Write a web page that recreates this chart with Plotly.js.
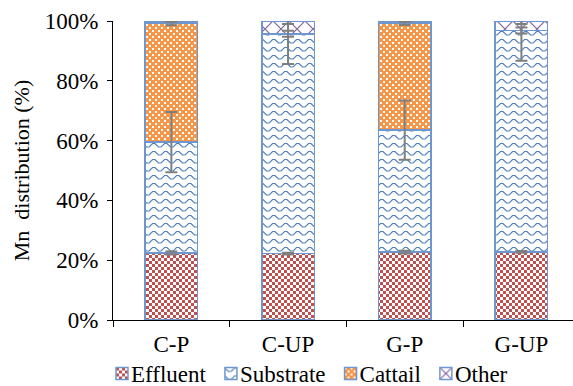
<!DOCTYPE html>
<html>
<head>
<meta charset="utf-8">
<script src="https://cdn.plot.ly/plotly-3.0.1.min.js"></script>
<style>
  html, body { margin: 0; padding: 0; background: #fff; }
  #chart { width: 573px; height: 386px; }
</style>
</head>
<body>
<div id="chart"></div>
<script>
// Mn distribution per treatment (% of total)
const categories = ['C-P', 'C-UP', 'G-P', 'G-UP'];
const effluent  = [22.4, 22.2, 22.7, 22.8];
const substrate = [37.1, 73.5, 40.8, 74.0];
const cattail   = [39.8, 0.0, 35.8, 0.0];
const other     = [0.7, 4.3, 0.7, 3.2];

// standard deviations
const effluentErr  = [0.5, 0.3, 0.5, 0.3];
const substrateErr = [10.1, 10.1, 9.9, 10.1];
const cattailErr   = [0.7, 1.0, 0.6, 1.0];
const otherErr     = [0.3, 1.0, 0.3, 1.0];

const seriesNames = ['Effluent', 'Substrate', 'Cattail', 'Other'];
const seriesColors = ['#C0504D', '#4F81BD', '#F79646', '#8064A2'];
const seriesValues = [effluent, substrate, cattail, other];
const seriesErrors = [effluentErr, substrateErr, cattailErr, otherErr];
const patternIds = ['pat-effluent', 'pat-substrate', 'pat-cattail', 'pat-other'];

const FONT = 'Liberation Serif';

const traces = seriesNames.map((name, i) => ({
  type: 'bar',
  name: name,
  x: categories,
  y: seriesValues[i],
  width: 0.45,
  marker: { color: seriesColors[i], line: { color: '#6F97CF', width: 1.5 } },
  error_y: {
    type: 'data', array: seriesErrors[i], visible: true,
    color: '#7F7F7F', thickness: 2, width: 6
  },
  hoverinfo: 'skip'
}));

const layout = {
  width: 573, height: 386,
  margin: { l: 113, r: 0, t: 21, b: 66 },
  barmode: 'stack',
  paper_bgcolor: '#fff', plot_bgcolor: '#fff',
  font: { family: FONT, size: 23, color: '#000' },
  xaxis: {
    type: 'category', range: [-0.5, 3.442],
    showline: true, linecolor: '#000', linewidth: 1,
    ticks: 'outside', tickson: 'boundaries', ticklen: 6, tickcolor: '#000',
    ticklabelstandoff: 3,
    showgrid: false, zeroline: false,
    tickfont: { family: FONT, size: 23, color: '#000' }
  },
  yaxis: {
    range: [0, 100], dtick: 20, ticksuffix: '%',
    showline: true, linecolor: '#000', linewidth: 1,
    ticks: 'outside', ticklen: 5, tickcolor: '#000',
    ticklabelstandoff: 4,
    showgrid: false, zeroline: false,
    tickfont: { family: FONT, size: 23, color: '#000' },
    title: { text: 'Mn\u00a0 distribution (%)', standoff: 9, font: { family: FONT, size: 22, color: '#000' } }
  },
  showlegend: true,
  legend: {
    orientation: 'h', traceorder: 'normal',
    xref: 'container', yref: 'container',
    x: 0.178, y: 0.088, xanchor: 'left', yanchor: 'top',
    font: { family: FONT, size: 23, color: '#000' },
    itemwidth: 30, bgcolor: 'rgba(0,0,0,0)'
  }
};

// Fill patterns for the bar segments and legend keys
function addPatterns(svg) {
  const ns = 'http://www.w3.org/2000/svg';
  const defs = document.createElementNS(ns, 'defs');
  defs.innerHTML =
    '<pattern id="pat-effluent" patternUnits="userSpaceOnUse" width="6" height="6">' +
      '<rect width="6" height="6" fill="#fff"/>' +
      '<rect x="0" y="0" width="3" height="3" fill="#C0504D"/>' +
      '<rect x="3" y="3" width="3" height="3" fill="#C0504D"/>' +
    '</pattern>' +
    '<pattern id="pat-substrate" patternUnits="userSpaceOnUse" width="12" height="8">' +
      '<rect width="12" height="8" fill="#fff"/>' +
      '<path d="M0,6 L3.5,2.5 L6,2.5 L9.5,6 L12,6" fill="none" stroke="#4F81BD" stroke-width="1.2"/>' +
    '</pattern>' +
    '<pattern id="pat-cattail" patternUnits="userSpaceOnUse" width="6" height="6">' +
      '<rect width="6" height="6" fill="#F79646"/>' +
      '<rect x="0" y="0" width="2" height="2" fill="#fff"/>' +
      '<rect x="3" y="3" width="2" height="2" fill="#fff"/>' +
    '</pattern>' +
    '<pattern id="pat-other" patternUnits="userSpaceOnUse" width="16" height="16">' +
      '<rect width="16" height="16" fill="#fff"/>' +
      '<path d="M0,0 L16,16 M16,0 L0,16" fill="none" stroke="#8064A2" stroke-width="1.2"/>' +
    '</pattern>';
  svg.insertBefore(defs, svg.firstChild);
}

function traceIndexOf(el) {
  const d = el.__data__;
  if (d && d[0] && d[0].trace) return d[0].trace.index;
  if (d && d[0] && d[0][0] && d[0][0].trace) return d[0][0].trace.index;
  return null;
}

function applyFills(gd) {
  const ns = 'http://www.w3.org/2000/svg';
  const svg = gd.querySelector('svg.main-svg');
  addPatterns(svg);
  gd.querySelectorAll('.barlayer .trace').forEach((tr, k) => {
    const i = traceIndexOf(tr) ?? k;
    tr.querySelectorAll('.point path').forEach(p => { p.style.fill = 'url(#' + patternIds[i] + ')'; });
  });
  // keep whiskers above every stacked segment
  const layer = gd.querySelector('.barlayer');
  const whiskers = document.createElementNS(ns, 'g');
  whiskers.setAttribute('class', 'whiskers-top');
  gd.querySelectorAll('.barlayer g.errorbar').forEach(g => whiskers.appendChild(g));
  layer.appendChild(whiskers);
  // legend: pattern keys, labels set close to their keys, compact spacing
  let nextX = null;
  gd.querySelectorAll('.legend .traces').forEach((tr, k) => {
    const i = traceIndexOf(tr) ?? k;
    tr.querySelectorAll('.legendpoints path').forEach(p => { p.style.fill = 'url(#' + patternIds[i] + ')'; });
    const txt = tr.querySelector('text.legendtext');
    const tx = parseFloat(txt.getAttribute('x') || '40') - 11;
    txt.setAttribute('x', String(tx));
    const m = /translate\(\s*([-\d.]+)[ ,]+([-\d.]+)\s*\)/.exec(tr.getAttribute('transform') || '');
    if (m) {
      const x0 = nextX === null ? parseFloat(m[1]) : nextX;
      tr.setAttribute('transform', 'translate(' + x0 + ',' + m[2] + ')');
      nextX = x0 + tx + txt.getComputedTextLength() + 5;
    }
  });
}

Plotly.newPlot('chart', traces, layout, { staticPlot: true, displayModeBar: false })
  .then(applyFills);
</script>
</body>
</html>
